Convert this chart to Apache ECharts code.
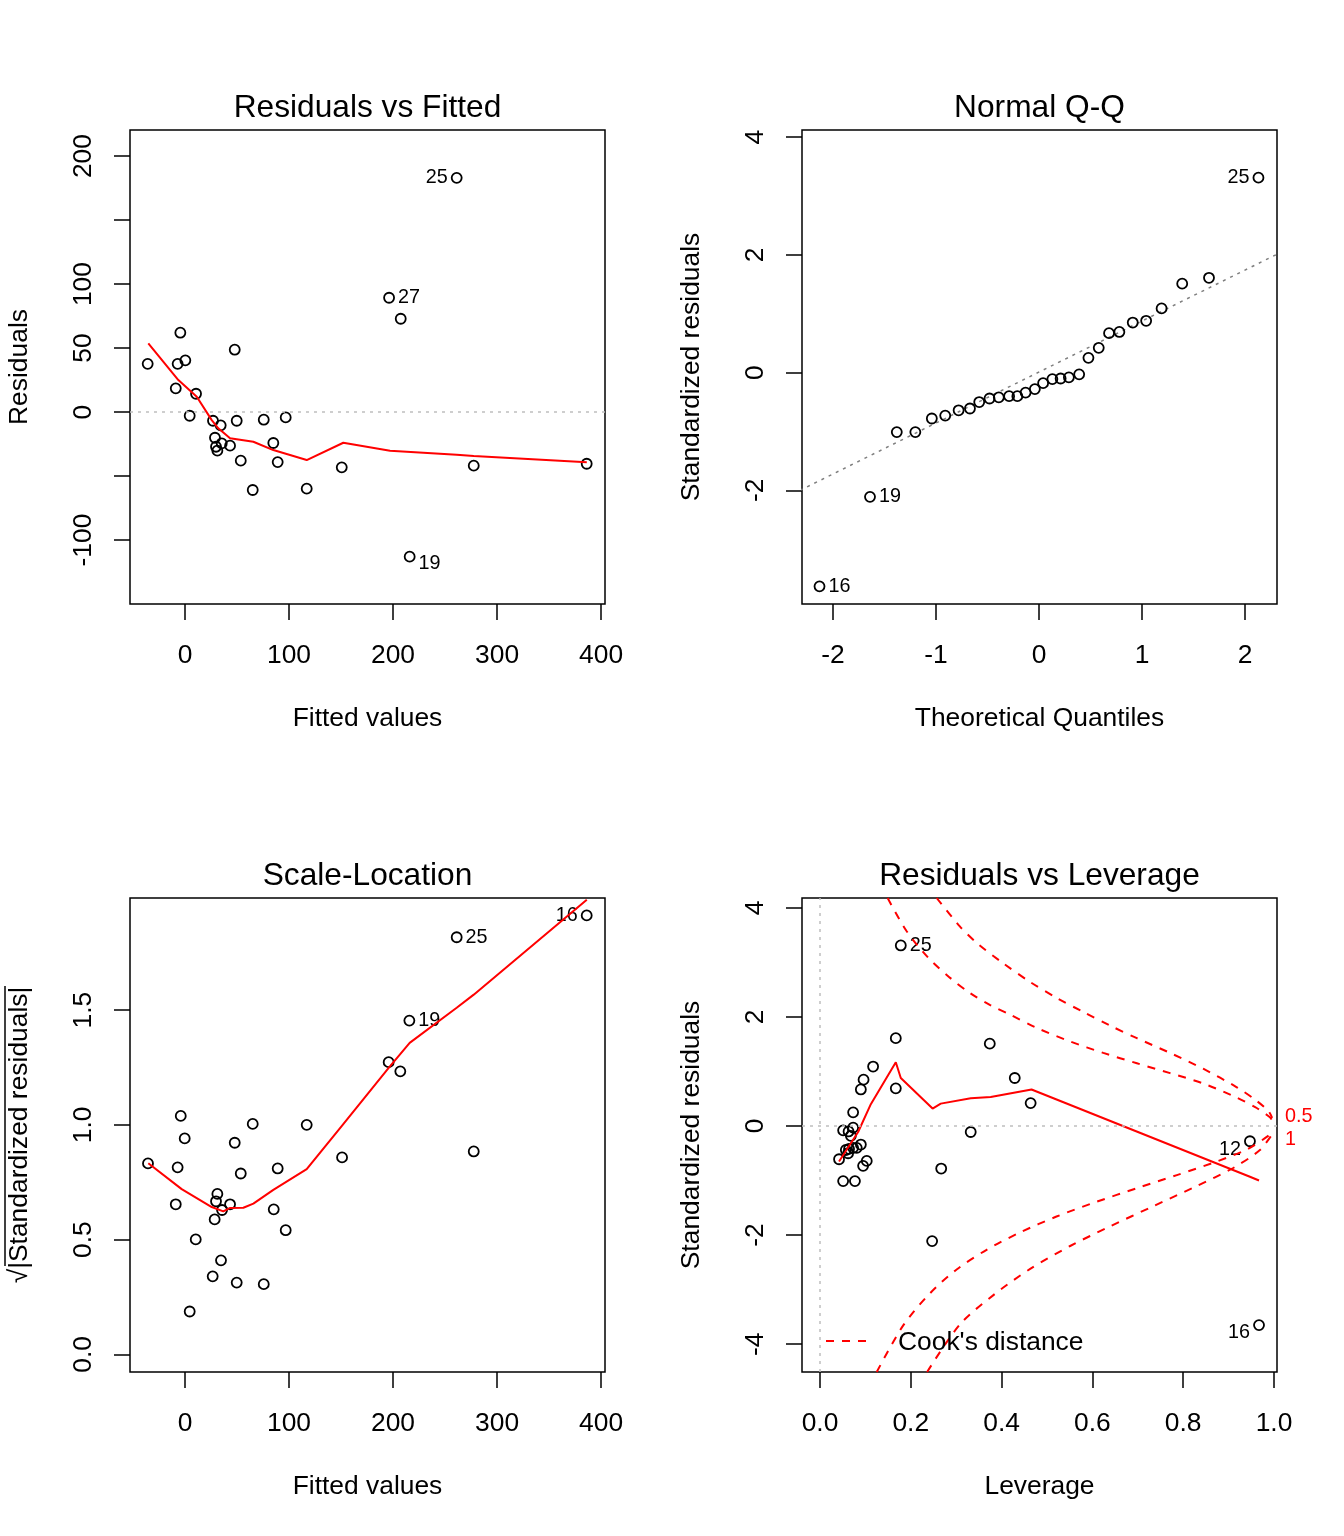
<!DOCTYPE html>
<html><head><meta charset="utf-8">
<script src="https://cdn.jsdelivr.net/npm/echarts@6/dist/echarts.min.js"></script>
<style>html,body{margin:0;padding:0;background:#fff}#c{width:1344px;height:1536px}</style>
</head><body><div id="c"></div>
<script>
// ---------- Panel 1: Residuals vs Fitted ----------
const RVF_FITTED = [-35.9,-8.9,-7.1,-4.5,0.3,4.5,10.6,26.9,28.8,29.8,31.1,34.3,35.3,43.3,47.8,49.7,53.6,65.1,75.7,84.9,89.1,96.8,117.0,150.7,196.2,207.4,216.0,261.2,277.6,386.2];
const RVF_RESID = [37.7,18.5,37.7,62.0,40.4,-2.9,14.3,-6.8,-20.1,-27.1,-30.2,-10.4,-24.5,-26.3,48.7,-6.8,-38.0,-60.9,-6.0,-24.2,-39.1,-4.2,-59.9,-43.2,89.3,72.9,-113.0,183.0,-41.9,-40.4];
const RVF_IDS = ['','','','','','','','','','','','','','','','','','','','','','','','','27','','19','25','',''];
const RVF_SMOOTH_X = [-35.3,-6.4,11.3,25.7,32.0,43.3,65.7,84.9,117.0,152.2,197.1,261.2,277.6,386.3];
const RVF_SMOOTH_Y = [53.7,25.0,12.0,-6.3,-12.7,-20.5,-23.2,-29.7,-37.5,-24.0,-30.2,-33.3,-34.4,-39.3];
const RVF_X_TICKS = [0,100,200,300,400];
const RVF_Y_TICKS = [-100,-50,0,50,100,150,200];
const RVF_Y_LABELS = [-100,0,50,100,200];

// ---------- Panel 2: Normal Q-Q ----------
const QQ_THEO = [-2.13,-1.64,-1.38,-1.20,-1.04,-0.91,-0.78,-0.67,-0.58,-0.48,-0.39,-0.29,-0.21,-0.13,-0.04,0.04,0.13,0.21,0.29,0.39,0.48,0.58,0.68,0.78,0.91,1.04,1.19,1.39,1.65,2.13];
const QQ_STD = [-3.63,-2.11,-1.01,-1.01,-0.78,-0.73,-0.64,-0.61,-0.50,-0.44,-0.42,-0.40,-0.40,-0.34,-0.28,-0.18,-0.11,-0.10,-0.08,-0.03,0.25,0.42,0.67,0.69,0.85,0.88,1.09,1.51,1.61,3.31];
const QQ_IDS = ['16','19','','','','','','','','','','','','','','','','','','','','','','','','','','','','25'];
const QQ_LINE_X = [-2.32, 2.31];
const QQ_LINE_Y = [-2.00, 2.01];
const QQ_X_TICKS = [-2,-1,0,1,2];
const QQ_Y_TICKS = [-2,0,2,4];

// ---------- Panel 3: Scale-Location ----------
const SL_FITTED = [-35.6,-8.9,-7.1,-4.1,-0.3,4.5,10.3,26.6,28.5,29.8,31.1,34.6,35.6,43.3,47.8,49.7,53.6,65.1,75.7,85.3,89.1,96.8,117.0,151.0,195.8,207.0,215.7,261.2,277.6,386.2];
const SL_SQRT = [0.832,0.654,0.815,1.039,0.941,0.187,0.501,0.340,0.588,0.667,0.699,0.410,0.629,0.654,0.922,0.313,0.788,1.004,0.306,0.632,0.810,0.541,1.000,0.858,1.273,1.233,1.454,1.817,0.884,1.912];
const SL_IDS = ['','','','','','','','','','','','','','','','','','','','','','','','','','','19','25','','16'];
const SL_SMOOTH_X = [-35.3,-3.2,25.7,36.8,43.3,56.1,65.7,84.9,117.0,151.0,196.2,216.0,261.2,277.6,386.3];
const SL_SMOOTH_Y = [0.833,0.720,0.642,0.623,0.638,0.639,0.657,0.717,0.807,0.997,1.250,1.357,1.510,1.567,1.980];
const SL_Y_TICKS = [0,0.5,1,1.5];

// ---------- Panel 4: Residuals vs Leverage ----------
const RL_LEV = [0.178,0.167,0.374,0.117,0.096,0.090,0.429,0.167,0.464,0.073,0.073,0.051,0.332,0.267,0.247,0.947,0.967,0.042,0.103,0.095,0.051,0.077,0.090,0.081,0.073,0.064,0.057,0.062,0.068,0.063];
const RL_STD = [3.31,1.61,1.51,1.09,0.85,0.67,0.88,0.69,0.42,0.25,-0.03,-0.08,-0.11,-0.78,-2.11,-0.28,-3.65,-0.61,-0.64,-0.73,-1.01,-1.01,-0.34,-0.40,-0.40,-0.42,-0.44,-0.50,-0.18,-0.10];
const RL_IDS = ['25','','','','','','','','','','','','','','','12','16','','','','','','','','','','','','',''];
const RL_SMOOTH_X = [0.042,0.084,0.112,0.167,0.178,0.248,0.266,0.332,0.376,0.466,0.947,0.967];
const RL_SMOOTH_Y = [-0.65,-0.11,0.40,1.17,0.88,0.32,0.41,0.51,0.53,0.67,-0.93,-1.00];
const COOK05_UP_X = [0.149,0.191,0.239,0.286,0.330,0.374,0.419,0.477,0.551,0.624,0.698,0.771,0.844,0.918,0.962,0.991,0.996];
const COOK05_UP_Y = [4.18,3.57,3.08,2.72,2.44,2.22,2.04,1.80,1.55,1.34,1.15,0.97,0.78,0.52,0.33,0.16,0.10];
const COOK1_UP_X = [0.257,0.308,0.345,0.404,0.463,0.521,0.580,0.639,0.698,0.771,0.844,0.918,0.962,0.988,0.996];
const COOK1_UP_Y = [4.18,3.66,3.36,2.98,2.64,2.35,2.09,1.84,1.61,1.34,1.05,0.71,0.46,0.27,0.15];
const COOK05_LO_X = [0.125,0.183,0.242,0.301,0.367,0.441,0.521,0.609,0.698,0.786,0.874,0.940,0.991,0.996];
const COOK05_LO_Y = [-4.51,-3.66,-3.07,-2.63,-2.27,-1.95,-1.66,-1.39,-1.14,-0.90,-0.65,-0.43,-0.16,-0.10];
const COOK1_LO_X = [0.236,0.308,0.382,0.463,0.551,0.639,0.734,0.830,0.910,0.969,0.996];
const COOK1_LO_Y = [-4.51,-3.64,-3.10,-2.62,-2.20,-1.84,-1.47,-1.10,-0.77,-0.44,-0.15];
const COOK_LABEL_AT = [0.17, -0.25];
const COOK_LABEL_TEXT = ['0.5', '1'];
const RL_X_TICKS = [0,0.2,0.4,0.6,0.8,1.0];
const RL_Y_TICKS = [-4,-2,0,2,4];

// ---------- styling ----------
const FONT = '"Liberation Sans", Arial, sans-serif';
const AX_FS = 26.4, TITLE_FS = 31.7, ID_FS = 19.8;
const LABEL_CFG = {
  p1: {'25': {side:'left', dy:0}, '27': {side:'right', dy:0}, '19': {side:'right', dy:7}},
  p2: {'25': {side:'left', dy:0}, '19': {side:'right', dy:0}, '16': {side:'right', dy:0}},
  p3: {'16': {side:'left', dy:0}, '25': {side:'right', dy:0}, '19': {side:'right', dy:0}},
  p4: {'25': {side:'right', dy:0}, '12': {side:'left', dy:8}, '16': {side:'left', dy:7}}
};
const zip = (a, b) => a.map((v, i) => [v, b[i]]);

function xAxis(grid, min, max, ticks, labels, fmt, name) {
  return {type:'value', gridIndex:grid, min, max, position:'bottom', splitLine:{show:false},
    axisLine:{show:false, onZero:false},
    axisTick:{show:true, length:16, customValues:ticks, lineStyle:{color:'#000', width:1.5}},
    axisLabel:{customValues:labels, formatter:fmt, margin:39, fontSize:AX_FS, color:'#000', fontFamily:FONT},
    name, nameLocation:'middle', nameGap:102,
    nameTextStyle:{fontSize:AX_FS, color:'#000', fontFamily:FONT}};
}
function yAxis(grid, min, max, ticks, labels, fmt, name) {
  return {type:'value', gridIndex:grid, min, max, position:'left', splitLine:{show:false},
    axisLine:{show:false, onZero:false},
    axisTick:{show:true, length:16, customValues:ticks, lineStyle:{color:'#000', width:1.5}},
    axisLabel:{customValues:labels, formatter:fmt, rotate:90, margin:33, fontSize:AX_FS, color:'#000', fontFamily:FONT},
    name, nameLocation:'middle', nameGap:97, nameRotate:90,
    nameTextStyle:{fontSize:AX_FS, color:'#000', fontFamily:FONT}};
}
function points(xi, xs, ys, ids, cfg) {
  return {type:'scatter', xAxisIndex:xi, yAxisIndex:xi, symbol:'circle', symbolSize:10, z:2,
    itemStyle:{color:'rgba(0,0,0,0)', borderColor:'#000', borderWidth:1.8, opacity:1},
    label:{show:false, fontSize:ID_FS, color:'#000', fontFamily:FONT},
    emphasis:{disabled:true},
    data: xs.map((x, i) => {
      const item = {value:[x, ys[i]]};
      if (ids[i]) {
        const c = cfg[ids[i]];
        item.label = {show:true, formatter:ids[i], position:c.side, distance:3, offset:[0, c.dy], color:'#000'};
      }
      return item;
    })};
}
function redLine(xi, yi, xs, ys, dashed) {
  return {type:'line', xAxisIndex:xi, yAxisIndex:yi, symbol:'none', z:4, clip:true,
    smooth: dashed ? 0.3 : false,
    lineStyle:{color:'#ff0000', width:2, type: dashed ? [8,8] : 'solid'},
    emphasis:{disabled:true}, data: zip(xs, ys)};
}
const dotted = (color) => ({silent:true, symbol:'none', label:{show:false},
  lineStyle:{color, width:1.5, type:[3,5]}, emphasis:{disabled:true}});

const s = String, f1 = v => v.toFixed(1);
const option = {
  animation:false,
  backgroundColor:'#fff',
  title:[
    {text:'Residuals vs Fitted', left:362.5, top:87, textAlign:'center'},
    {text:'Normal Q-Q', left:1034.5, top:87, textAlign:'center'},
    {text:'Scale-Location', left:362.5, top:855, textAlign:'center'},
    {text:'Residuals vs Leverage', left:1034.5, top:855, textAlign:'center'}
  ].map(t => Object.assign(t, {textStyle:{fontSize:TITLE_FS, fontWeight:'normal', color:'#000', fontFamily:FONT}})),
  grid:[
    {left:130, top:130, width:475, height:474},
    {left:802, top:130, width:475, height:474},
    {left:130, top:898, width:475, height:474},
    {left:802, top:898, width:475, height:474}
  ].map(g => Object.assign(g, {show:true, borderColor:'#000', borderWidth:1.5, backgroundColor:'rgba(0,0,0,0)', containLabel:false})),
  xAxis:[
    xAxis(0, -52.9, 403.8, RVF_X_TICKS, RVF_X_TICKS, s, 'Fitted values'),
    xAxis(1, -2.30, 2.31, QQ_X_TICKS, QQ_X_TICKS, s, 'Theoretical Quantiles'),
    xAxis(2, -52.9, 403.8, RVF_X_TICKS, RVF_X_TICKS, s, 'Fitted values'),
    xAxis(3, -0.0396, 1.0066, RL_X_TICKS, RL_X_TICKS, f1, 'Leverage')
  ],
  yAxis:[
    yAxis(0, -150.0, 220.4, RVF_Y_TICKS, RVF_Y_LABELS, s, 'Residuals'),
    yAxis(1, -3.93, 4.12, QQ_Y_TICKS, QQ_Y_TICKS, s, 'Standardized residuals'),
    yAxis(2, -0.0765, 1.988, SL_Y_TICKS, SL_Y_TICKS, f1, '\u221A|Standardized residuals|'),
    yAxis(3, -4.51, 4.18, RL_Y_TICKS, RL_Y_TICKS, s, 'Standardized residuals'),
    {type:'value', gridIndex:3, min:-4.51, max:4.18, position:'right', splitLine:{show:false},
     axisLine:{show:false, onZero:false}, axisTick:{show:false},
     axisLabel:{customValues:COOK_LABEL_AT, formatter: v => COOK_LABEL_TEXT[COOK_LABEL_AT.indexOf(v)],
       margin:8, fontSize:ID_FS, color:'#ff0000', fontFamily:FONT}}
  ],
  series:[
    // panel 1
    Object.assign(points(0, RVF_FITTED, RVF_RESID, RVF_IDS, LABEL_CFG.p1),
      {markLine: Object.assign(dotted('#bebebe'), {data:[{yAxis:0}]})}),
    redLine(0, 0, RVF_SMOOTH_X, RVF_SMOOTH_Y, false),
    // panel 2
    points(1, QQ_THEO, QQ_STD, QQ_IDS, LABEL_CFG.p2),
    {type:'line', xAxisIndex:1, yAxisIndex:1, symbol:'none', z:1, clip:true,
     lineStyle:{color:'#7f7f7f', width:1.5, type:[3,5]}, emphasis:{disabled:true},
     data: zip(QQ_LINE_X, QQ_LINE_Y)},
    // panel 3
    points(2, SL_FITTED, SL_SQRT, SL_IDS, LABEL_CFG.p3),
    redLine(2, 2, SL_SMOOTH_X, SL_SMOOTH_Y, false),
    // panel 4
    Object.assign(points(3, RL_LEV, RL_STD, RL_IDS, LABEL_CFG.p4),
      {markLine: Object.assign(dotted('#bebebe'), {data:[{yAxis:0},{xAxis:0}]})}),
    redLine(3, 3, RL_SMOOTH_X, RL_SMOOTH_Y, false),
    redLine(3, 3, COOK05_UP_X, COOK05_UP_Y, true),
    redLine(3, 3, COOK05_LO_X, COOK05_LO_Y, true),
    redLine(3, 3, COOK1_UP_X, COOK1_UP_Y, true),
    redLine(3, 3, COOK1_LO_X, COOK1_LO_Y, true)
  ],
  graphic:[
    {type:'line', shape:{x1:826, y1:1341, x2:874, y2:1341}, style:{stroke:'#ff0000', lineWidth:2, lineDash:[8,8]}, z:10},
    {type:'text', x:898, y:1343, style:{text:"Cook's distance", fontSize:AX_FS, fontFamily:FONT, fill:'#000', verticalAlign:'middle', align:'left'}, z:10},
    {type:'line', shape:{x1:5, y1:986, x2:5, y2:1266}, style:{stroke:'#000', lineWidth:1.5}, z:10}
  ]
};
const chart = echarts.init(document.getElementById('c'), null, {renderer:'canvas'});
chart.setOption(option);
</script>
</body></html>
